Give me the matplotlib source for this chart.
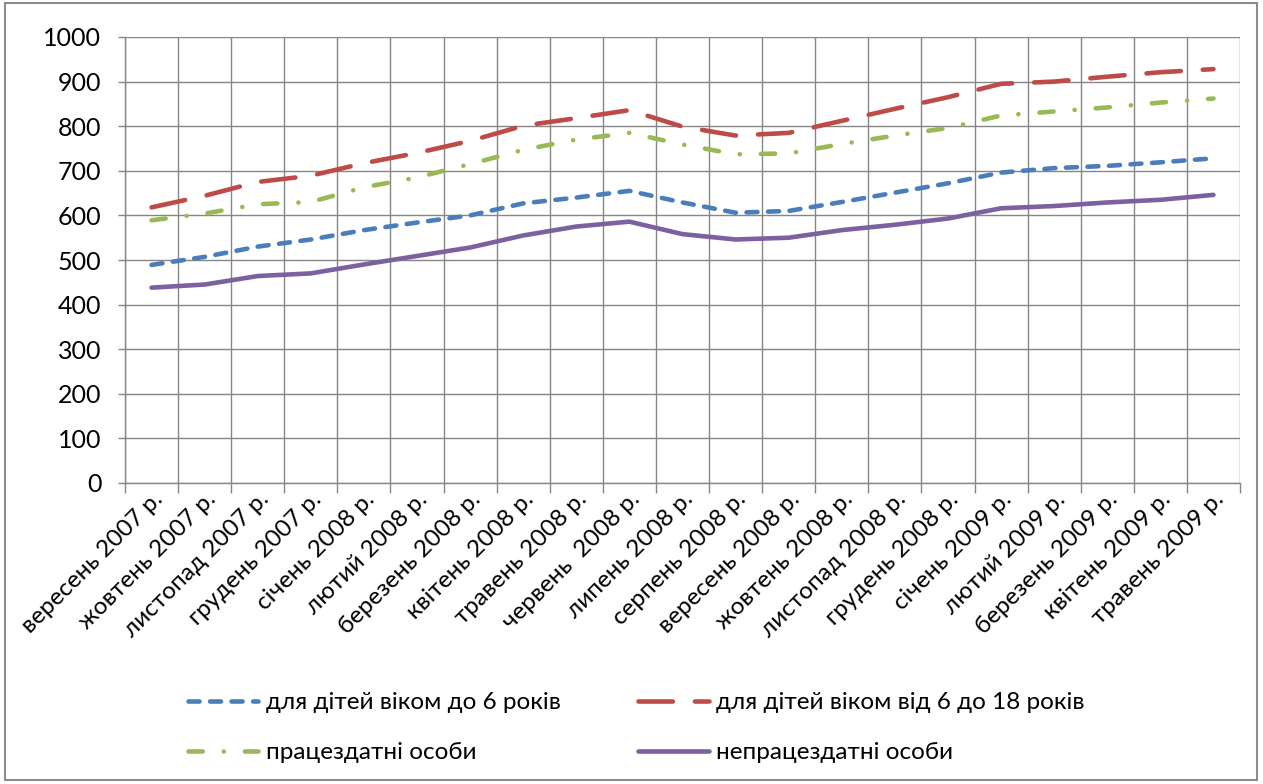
import numpy as np
import matplotlib
matplotlib.use("Agg")
import matplotlib.pyplot as plt
import matplotlib.transforms as mtransforms
from matplotlib.patches import Rectangle

plt.rcParams['font.family'] = ['Lato', 'Noto Sans', 'DejaVu Sans']

# months, Sep 2007 - May 2009
months = ["вересень 2007 р.", "жовтень 2007 р.", "листопад 2007 р.", "грудень 2007 р.",
          "січень 2008 р.", "лютий 2008 р.", "березень 2008 р.", "квітень 2008 р.",
          "травень 2008 р.", "червень  2008 р.", "липень 2008 р.", "серпень 2008 р.",
          "вересень 2008 р.", "жовтень 2008 р.", "листопад 2008 р.", "грудень 2008 р.",
          "січень 2009 р.", "лютий 2009 р.", "березень 2009 р.", "квітень 2009 р.",
          "травень 2009 р."]

kids_under_6 = [489, 507, 530, 546, 567, 584, 600, 627, 640, 655, 629,
                606, 610, 630, 651, 672, 696, 706, 711, 719, 728]
kids_6_18 = [618, 644, 675, 689, 717, 740, 767, 801, 818, 836, 799,
             779, 785, 812, 839, 865, 895, 900, 911, 921, 928]
able_bodied = [589, 604, 625, 630, 663, 685, 715, 747, 770, 785, 759,
               737, 739, 760, 779, 796, 824, 833, 842, 853, 862]
disabled = [438, 445, 464, 470, 490, 509, 528, 555, 575, 586, 558,
            546, 550, 567, 579, 593, 616, 621, 629, 635, 646]

labels = ["для дітей віком до 6 років", "для дітей віком від 6 до 18 років",
          "працездатні особи", "непрацездатні особи"]

W, H = 1263, 784
fig = plt.figure(figsize=(W / 100, H / 100), dpi=100)
ax = fig.add_axes([125 / W, 1 - 483 / H, (1240 - 125) / W, (483 - 37) / H])

grid_c = '#868686'
x = np.arange(len(months))
lw = 3.3

l1, = ax.plot(x, kids_under_6, color='#4A7EBB', lw=lw, dashes=(2.4, 2.3),
              dash_capstyle='round', label=labels[0])
l2, = ax.plot(x, kids_6_18, color='#BE4B48', lw=lw, dashes=(7.5, 4.8),
              dash_capstyle='round', label=labels[1])
l3, = ax.plot(x, able_bodied, color='#98B954', lw=lw, dashes=(3.1, 4.6, 0.01, 4.6),
              dash_capstyle='round', label=labels[2])
l4, = ax.plot(x, disabled, color='#7D60A0', lw=lw, solid_capstyle='round',
              solid_joinstyle='round', label=labels[3])

ax.set_xlim(-0.5, len(months) - 0.5)
ax.set_ylim(0, 1000)
ax.set_yticks(np.arange(0, 1001, 100))
ax.set_xticks(x)
ax.set_xticklabels(months, rotation=45, ha='right', rotation_mode='anchor', fontsize=17.5)
ax.set_xticks(np.arange(-0.5, len(months), 1), minor=True)

# shift the slanted month labels so their ends sit just right of each point
shift = mtransforms.ScaledTranslation(0.2, 0, fig.dpi_scale_trans)
for lab in ax.get_xticklabels():
    lab.set_transform(lab.get_transform() + shift)

ax.grid(True, which='major', axis='y', color=grid_c, lw=1.0)
ax.grid(True, which='minor', axis='x', color=grid_c, lw=1.0)
ax.set_axisbelow(True)
ax.tick_params(axis='x', which='major', length=0, pad=4)
ax.tick_params(axis='x', which='minor', length=7, color=grid_c, width=1.0)
ax.tick_params(axis='y', length=5, color=grid_c, width=1.0, labelsize=18, pad=12)
for s in ['top', 'right']:
    ax.spines[s].set_visible(False)
for s in ['left', 'bottom']:
    ax.spines[s].set_color(grid_c)
    ax.spines[s].set_linewidth(1.0)

fig.legend([l1, l3, l2, l4], [labels[0], labels[2], labels[1], labels[3]],
           ncol=2, loc='upper left', bbox_to_anchor=(188 / W, 1 - 692 / H),
           frameon=False, fontsize=17.5, handlelength=2.9, handletextpad=0.3,
           columnspacing=3.2, labelspacing=1.2, borderpad=0, borderaxespad=0)

# outer chart frame
fig.patches.append(Rectangle((5 / W, 4 / H), 1252 / W, 777 / H, transform=fig.transFigure,
                             fill=False, edgecolor='#8c8c8c', lw=1.5))

fig.savefig("out.png", dpi=100)
